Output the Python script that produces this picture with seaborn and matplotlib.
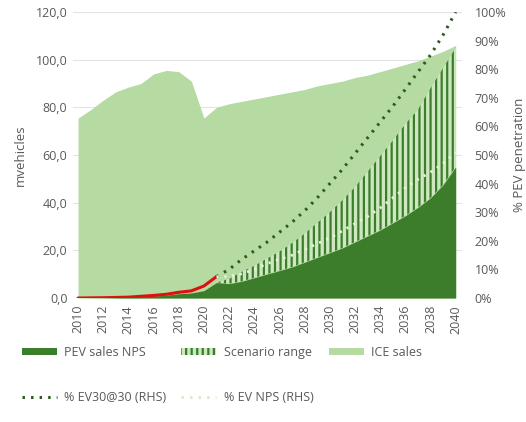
import numpy as np
import pandas as pd
import seaborn as sns
import matplotlib.pyplot as plt
from matplotlib.patches import Patch
from matplotlib.lines import Line2D
from matplotlib.ticker import FuncFormatter, MultipleLocator

# --- data ---
years = list(range(2010, 2041))
total_sales = [75.5, 79.0, 83.0, 86.5, 88.5, 90.0, 94.0, 95.5, 95.0, 91.0,
               75.5, 80.0, 81.5, 82.5, 83.5, 84.5, 85.5, 86.5, 87.5, 89.0,
               90.0, 91.0, 92.5, 93.5, 95.0, 96.5, 98.0, 99.5, 101.5, 103.5, 106.0]
pev_nps = [0.0, 0.05, 0.1, 0.2, 0.3, 0.5, 0.8, 1.2, 1.8, 2.1,
           3.1, 6.5, 6.0, 7.0, 8.5, 10.0, 11.5, 13.0, 15.0, 17.0,
           19.0, 21.0, 23.5, 26.0, 28.5, 31.5, 34.5, 38.0, 42.0, 47.5, 55.0]
scen_years = list(range(2021, 2041))
scenario_top = [6.5, 8.0, 11.0, 13.5, 16.5, 19.5, 23.0, 27.0, 31.5, 36.0,
                41.0, 46.5, 53.0, 59.5, 66.0, 73.0, 79.0, 88.0, 96.5, 105.0]

hist_years = list(range(2010, 2022))
hist_share = [0.0, 0.05, 0.1, 0.2, 0.3, 0.6, 0.9, 1.3, 2.0, 2.5, 4.2, 7.5]
ev30_share = [7.5, 10.0, 13.5, 16.5, 19.5, 23.0, 26.5, 30.5, 35.0, 40.0,
              45.0, 50.5, 56.0, 61.5, 67.0, 73.0, 79.0, 85.0, 92.0, 100.0]
evnps_share = [7.5, 7.5, 8.5, 10.0, 12.0, 13.5, 15.0, 17.0, 19.0, 21.0,
               23.5, 26.0, 28.5, 31.5, 35.0, 38.5, 41.5, 44.0, 47.0, 51.0]

dark = "#3b7d2b"
light = "#b5daa2"
stripe_bg = "#cde8bf"
grey = "#595959"

sns.set_style("white")
plt.rcParams["font.family"] = ["Open Sans", "DejaVu Sans"]
plt.rcParams["hatch.linewidth"] = 1.6
plt.rcParams["hatch.color"] = dark

fig = plt.figure(figsize=(5.26, 4.22), dpi=100)
ax = fig.add_axes([0.1388, 0.2938, 0.7395, 0.6777])

ax.fill_between(years, 0, total_sales, color=light, lw=0, zorder=1)
ax.fill_between(scen_years, pev_nps[11:], scenario_top, facecolor=stripe_bg,
                edgecolor=dark, hatch="|||", lw=0, zorder=2)
ax.fill_between(years, 0, pev_nps, color=dark, lw=0, zorder=3)

ax.set_xlim(2009.6, 2040.5)
ax.set_ylim(0, 120)
ax.yaxis.set_major_locator(MultipleLocator(20))
ax.yaxis.set_major_formatter(FuncFormatter(lambda v, p: f"{v:.1f}".replace(".", ",")))
ax.set_xticks(range(2010, 2041, 2))
ax.tick_params(axis="x", labelrotation=90, labelsize=9, colors=grey, length=0, pad=5)
ax.tick_params(axis="y", labelsize=9, colors=grey, length=0, pad=4)
ax.grid(axis="y", color="#e3e3e3", lw=0.8)
ax.set_axisbelow(True)
ax.set_ylabel("mvehicles", fontsize=9.5, color=grey, labelpad=6)
for s in ax.spines.values():
    s.set_visible(False)

ax2 = ax.twinx()
lines = pd.DataFrame({"year": hist_years, "share": hist_share})
sns.lineplot(data=lines, x="year", y="share", ax=ax2, color="#e01010", lw=2.2, zorder=5)
sns.lineplot(x=scen_years, y=ev30_share, ax=ax2, color="#2d5a1e", lw=2.2,
             linestyle=(0, (0.8, 2.0)), zorder=6)
sns.lineplot(x=scen_years, y=evnps_share, ax=ax2, color="#eaf2dc", lw=2,
             linestyle=(0, (0.8, 2.0)), zorder=6)
ax2.set_ylim(0, 100)
ax2.yaxis.set_major_locator(MultipleLocator(10))
ax2.yaxis.set_major_formatter(FuncFormatter(lambda v, p: f"{v:.0f}%"))
ax2.tick_params(axis="y", labelsize=9, colors=grey, length=0, pad=9)
ax2.set_xlabel("")
ax2.set_ylabel("% PEV penetration", fontsize=9.5, color=grey, labelpad=5)
for s in ax2.spines.values():
    s.set_visible(False)

handles = [
    Patch(facecolor=dark, edgecolor="none"),
    Line2D([], [], color="#2d5a1e", lw=2.2, linestyle=(0, (0.8, 2.0))),
    Patch(facecolor=stripe_bg, edgecolor=dark, hatch="|||", lw=0),
    Line2D([], [], color="#dfe8cf", lw=2.2, linestyle=(0, (0.8, 2.0))),
    Patch(facecolor=light, edgecolor="none"),
]
labels = ["PEV sales NPS", "% EV30@30 (RHS)", "Scenario range", "% EV NPS (RHS)", "ICE sales"]
leg = fig.legend(handles, labels, ncol=3, loc="lower left", bbox_to_anchor=(0.02, 0.015),
                 frameon=False, fontsize=9, handlelength=2.8, handleheight=0.6,
                 labelspacing=2.6, columnspacing=1.2, handletextpad=0.6)
for t in leg.get_texts():
    t.set_color(grey)

fig.savefig("out.png", dpi=100)
